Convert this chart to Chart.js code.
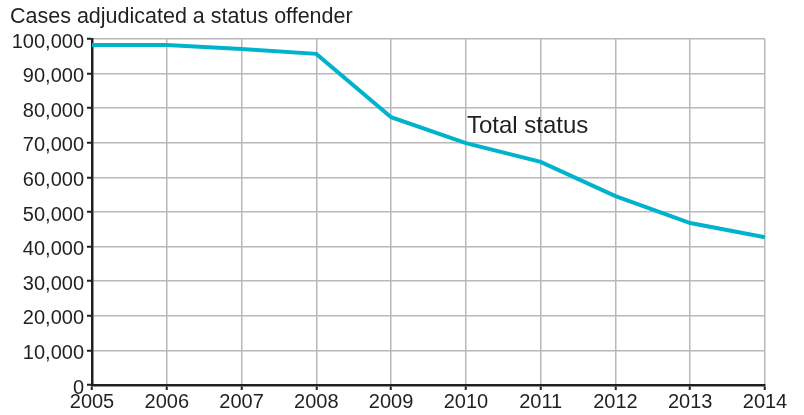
<!DOCTYPE html>
<html>
<head>
<meta charset="utf-8">
<script src="https://cdn.jsdelivr.net/npm/chart.js@4"></script>
<style>
  html, body { margin: 0; padding: 0; background: #ffffff; }
  #wrap { width: 804px; height: 415px; position: relative; }
</style>
</head>
<body>
<div id="wrap"><canvas id="c" width="804" height="415"></canvas></div>
<script>
const years = ['2005','2006','2007','2008','2009','2010','2011','2012','2013','2014'];
const totalStatus = [98300, 98300, 97100, 95700, 77400, 69900, 64500, 54600, 46800, 42700];
const yTicks = [0,10000,20000,30000,40000,50000,60000,70000,80000,90000,100000];
const titleText = 'Cases adjudicated a status offender';
const seriesLabel = 'Total status';

const FONT = '"Liberation Sans", Arial, Helvetica, sans-serif';
const INK = '#231f20';
const GRID = '#b8b8b8';

const textPlugin = {
  id: 'texts',
  afterDraw(chart) {
    const ctx = chart.ctx;
    ctx.save();
    ctx.fillStyle = INK;
    ctx.textBaseline = 'alphabetic';
    ctx.textAlign = 'left';
    ctx.font = '21.5px ' + FONT;
    ctx.fillText(titleText, 10, 23);
    const xs = chart.scales.x, ys = chart.scales.y;
    ctx.font = '24px ' + FONT;
    ctx.fillText(seriesLabel, xs.getPixelForValue(5) + 1, ys.getPixelForValue(72700));
    ctx.restore();
  }
};

new Chart(document.getElementById('c'), {
  type: 'line',
  data: {
    labels: years,
    datasets: [{
      label: seriesLabel,
      data: totalStatus,
      borderColor: '#00b3cd',
      borderWidth: 4,
      pointRadius: 0,
      tension: 0,
      fill: false,
      borderJoinStyle: 'miter'
    }]
  },
  options: {
    responsive: false,
    animation: false,
    layout: { padding: { left: 0, right: 39, top: 39, bottom: 0 } },
    plugins: {
      legend: { display: false },
      tooltip: { enabled: false },
      title: { display: false }
    },
    scales: {
      x: {
        offset: false,
        grid: { color: GRID, lineWidth: 1.5, tickLength: 5, tickColor: INK, tickWidth: 2 },
        border: { color: INK, width: 2.5 },
        ticks: { color: INK, font: { family: FONT, size: 20 }, padding: 0, maxRotation: 0, autoSkip: false },
        afterFit(scale) { scale.height = 30; }
      },
      y: {
        min: 0, max: 100000,
        afterBuildTicks(scale) { scale.ticks = yTicks.map(v => ({ value: v })); },
        grid: { color: GRID, lineWidth: 1.5, tickLength: 5, tickColor: INK, tickWidth: 2 },
        border: { color: INK, width: 2.5 },
        ticks: {
          color: INK, font: { family: FONT, size: 20 }, padding: 3, labelOffset: 3,
          callback: (v) => v.toLocaleString('en-US')
        },
        afterFit(scale) { scale.width = 92; }
      }
    }
  },
  plugins: [textPlugin]
});
</script>
</body>
</html>
